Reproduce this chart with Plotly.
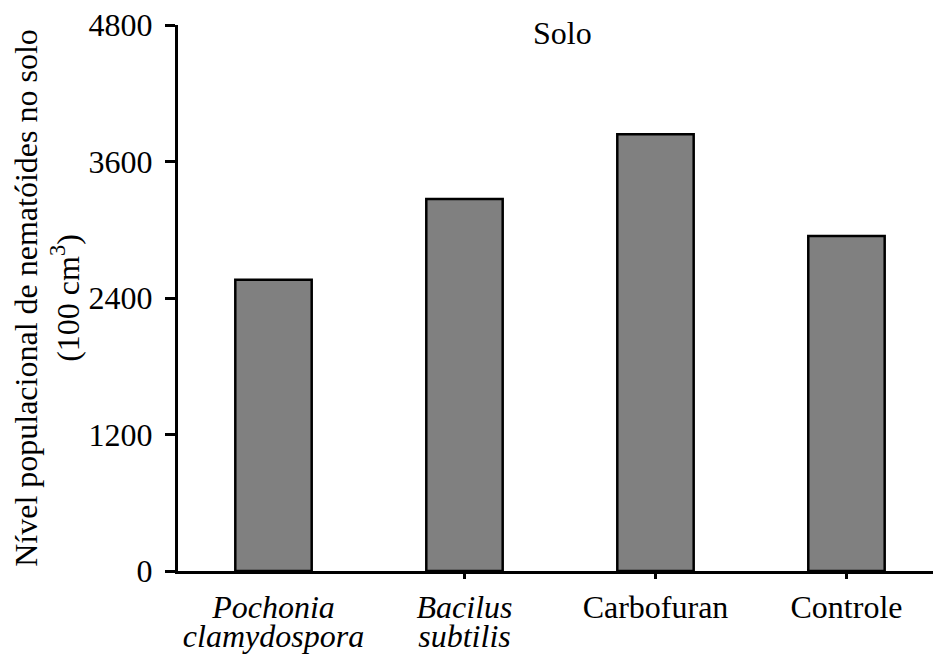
import plotly.graph_objects as go

labels_line1 = ["<i>Pochonia</i>", "<i>Bacilus</i>", "Carbofuran", "Controle"]
labels_line2 = ["<i>clamydospora</i>", "<i>subtilis</i>", "", ""]
values = [2560, 3270, 3840, 2945]
y_ticks = [0, 1200, 2400, 3600, 4800]
title_text = "Solo"
y_title = "Nível populacional de nematóides no solo<br>(100 cm<sup>3</sup>)"

FONT = "Liberation Serif"
FS = 32
x_idx = list(range(len(labels_line1)))

fig = go.Figure()
fig.add_trace(go.Bar(
    x=x_idx, y=values, width=0.4,
    marker=dict(color="#808080", line=dict(color="black", width=2.5)),
    showlegend=False, hoverinfo="skip",
))
fig.add_trace(go.Scatter(x=x_idx[1:], y=[0]*3, xaxis="x2", mode="markers",
                         marker=dict(opacity=0), showlegend=False, hoverinfo="skip"))
fig.add_trace(go.Scatter(x=x_idx, y=[0]*4, xaxis="x3", mode="markers",
                         marker=dict(opacity=0), showlegend=False, hoverinfo="skip"))

xr = [-0.5, 3.453]
tf = dict(family=FONT, size=FS, color="black")
fig.update_layout(
    width=933, height=654,
    margin=dict(l=178, r=0, t=25, b=83, autoexpand=False),
    paper_bgcolor="white", plot_bgcolor="white",
    font=tf,
    xaxis=dict(range=xr, tickvals=x_idx, ticktext=labels_line1, ticks="",
               showline=True, linecolor="black", linewidth=3, automargin=False,
               showgrid=False, zeroline=False, tickfont=tf, ticklabelstandoff=6),
    xaxis2=dict(range=xr, overlaying="x", anchor="y", side="bottom",
                tickvals=x_idx[1:], showticklabels=False, ticks="outside",
                ticklen=7, tickwidth=3, tickcolor="black", automargin=False,
                showline=False, showgrid=False, zeroline=False),
    xaxis3=dict(range=xr, overlaying="x", anchor="y", side="bottom",
                tickvals=x_idx, ticktext=labels_line2, ticks="", automargin=False,
                showline=False, showgrid=False, zeroline=False,
                tickfont=tf, ticklabelstandoff=43),
    yaxis=dict(range=[0, 4800], tickvals=y_ticks, ticks="outside", ticklen=10,
               tickwidth=3, tickcolor="black", showline=True, linecolor="black",
               linewidth=3, showgrid=False, zeroline=False, automargin=False,
               title=dict(text=y_title, font=tf, standoff=0),
               tickfont=tf, ticklabelstandoff=6),
    annotations=[dict(text=title_text, xref="paper", yref="paper",
                      x=(562 - 178) / (933 - 178), y=1 - (33 - 25) / (654 - 25 - 83),
                      yanchor="middle", showarrow=False, font=tf)],
)

fig.write_html("out.html", config={"displayModeBar": False},
               post_script="document.body.style.margin='0';")
